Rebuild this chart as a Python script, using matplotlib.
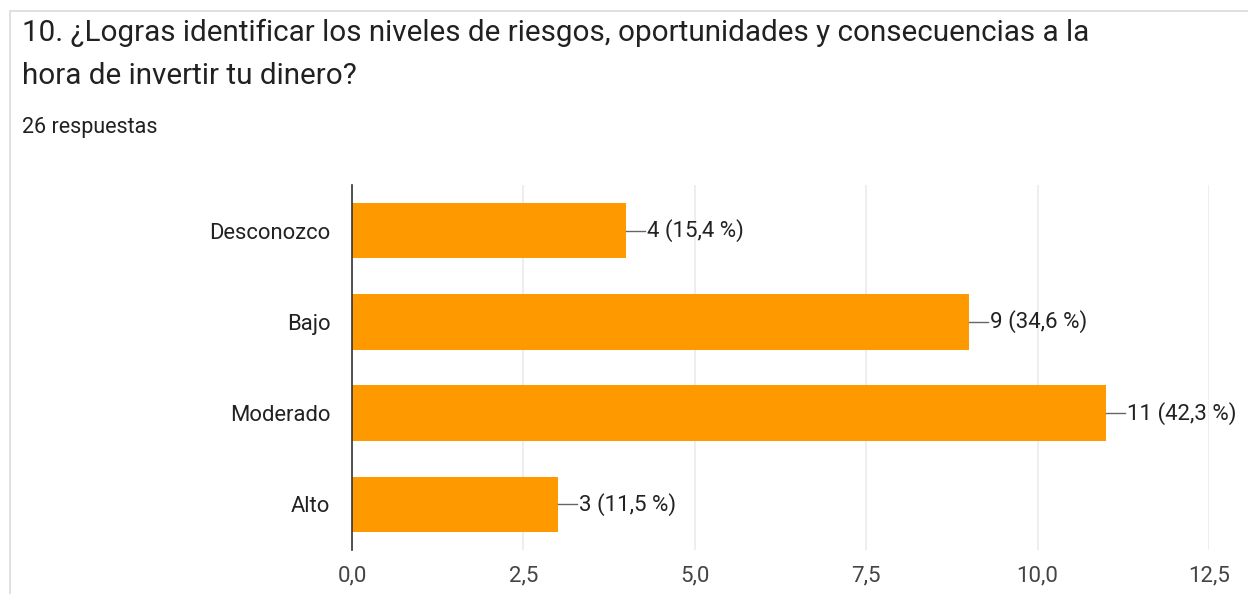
import matplotlib
matplotlib.use('Agg')
from matplotlib import pyplot as plt
from matplotlib.patches import Rectangle

plt.rcParams['font.family'] = ['Roboto', 'DejaVu Sans']

categories = ['Desconozco', 'Bajo', 'Moderado', 'Alto']
counts = [4, 9, 11, 3]
percents = ['15,4', '34,6', '42,3', '11,5']
xticks = [0, 2.5, 5, 7.5, 10, 12.5]
xtick_labels = ['0,0', '2,5', '5,0', '7,5', '10,0', '12,5']

W, H = 1248, 594
fig = plt.figure(figsize=(W / 100, H / 100), dpi=100)
fig.patch.set_facecolor('white')

# card border
fig.patches.append(Rectangle((10 / W, -0.01), 1.1, (H - 11) / H + 0.01,
                             transform=fig.transFigure, fill=False,
                             edgecolor='#dadada', linewidth=1.2))

fig.text(22 / W, 1 - 33 / H, '10. ¿Logras identificar los niveles de riesgos, oportunidades y consecuencias a la',
         fontsize=21.3, color='#212121', va='center')
fig.text(22 / W, 1 - 76 / H, 'hora de invertir tu dinero?',
         fontsize=21.3, color='#212121', va='center')
fig.text(22 / W, 1 - 127 / H, '26 respuestas',
         fontsize=15.5, color='#212121', va='center')

left, right, top, bottom = 352, 1209, 185, 550
ax = fig.add_axes([left / W, 1 - bottom / H, (right - left) / W, (bottom - top) / H])

y = list(range(len(categories)))
ax.barh(y, counts, height=0.61, color='#ff9900', zorder=3)
ax.set_ylim(len(categories) - 0.5, -0.5)
ax.set_yticks(y)
ax.set_yticklabels(categories, fontsize=15.8, color='#222222')
ax.set_xlim(0, 12.5)
ax.set_xticks(xticks)
ax.set_xticklabels(xtick_labels, fontsize=16, color='#444444')
ax.tick_params(axis='both', length=0)
ax.tick_params(axis='y', pad=15.5)
ax.tick_params(axis='x', pad=11)
ax.grid(axis='x', color='#ebebeb', linewidth=1.2, zorder=0)
for s in ['top', 'right', 'bottom']:
    ax.spines[s].set_visible(False)
ax.spines['left'].set_color('#333333')
ax.spines['left'].set_linewidth(1.2)
ax.spines['left'].set_zorder(4)

for yi, c, p in zip(y, counts, percents):
    ax.plot([c, c + 0.28], [yi, yi], color='#666666', linewidth=1, zorder=4)
    ax.text(c + 0.31, yi, f'{c} ({p} %)', va='center', ha='left',
            fontsize=16, color='#222222', zorder=4)

fig.savefig('out.png', dpi=100)
